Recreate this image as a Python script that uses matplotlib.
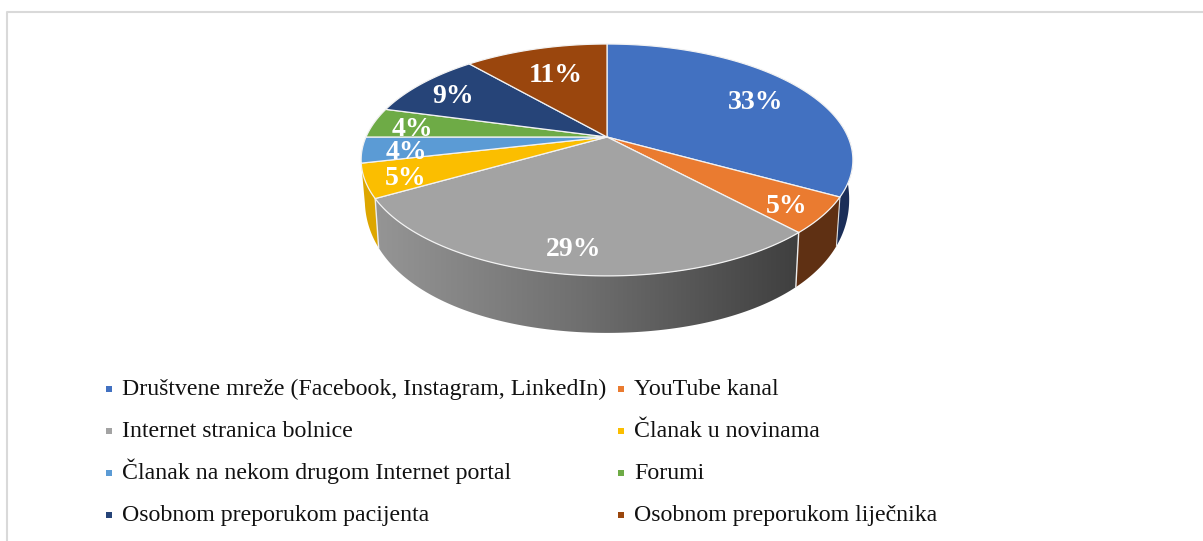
import numpy as np
import matplotlib
matplotlib.use('Agg')
import matplotlib.pyplot as plt
from matplotlib.colors import LinearSegmentedColormap
from matplotlib.patches import Polygon

kategorije = ['Društvene mreže (Facebook, Instagram, LinkedIn)', 'YouTube kanal',
              'Internet stranica bolnice', 'Članak u novinama',
              'Članak na nekom drugom Internet portal', 'Forumi',
              'Osobnom preporukom pacijenta', 'Osobnom preporukom liječnika']
postotci = [33.1, 5.0, 28.6, 4.7, 3.6, 4.2, 9.4, 11.4]
boje = ['#4271C1', '#EA7B30', '#A3A3A3', '#FBBE00', '#5B9BD5', '#6EAB46', '#264478', '#9A460D']
boje_boka = ['#1B2E58', '#5F3013', '#555555', '#DDA600']
r_oznaka = [0.76, 0.84, 0.82, 0.85, 0.83, 0.84, 0.83, 0.72]

# perspektiva kruznice: sredina pite i poluosi u pikselima
cx, cy = 607, 137
A, B, k = 241, 111.4, 0.198


def tocke(t, r=1.0):
    u, v = r * np.sin(t), r * np.cos(t)
    w = 1 + k * v
    return cx + A * u / w, cy - B * v / w


def dno(x, y):
    d = np.clip(57 - 0.0013 * np.clip(276 - y, 0, None) ** 2, 0, None)
    return cx + (x - cx) * 0.985, y + d


fig = plt.figure(figsize=(12.03, 5.41), dpi=100)
ax = fig.add_axes([0, 0, 1, 1])
ax.set_xlim(0, 1203)
ax.set_ylim(541, 0)
ax.axis('off')

# okvir
ax.plot([7, 7, 1203], [541, 12, 12], color='#D9D9D9', lw=1.5)

kum = np.cumsum([0] + postotci) / sum(postotci) * 2 * np.pi

# bokovi, samo prednja strana
for i in [0, 3, 1, 2]:
    t = np.linspace(kum[i], kum[i + 1], 120)
    if i == 0:
        t = np.linspace(np.radians(85), kum[1], 120)
    x, y = tocke(t)
    xd, yd = dno(x, y)
    xy = np.column_stack([np.r_[x, xd[::-1]], np.r_[y, yd[::-1]]])
    if i == 2:
        cmap = LinearSegmentedColormap.from_list('siva', ['#959595', '#6E6E6E', '#3F3F3F'])
        slika = ax.imshow(np.linspace(0, 1, 256).reshape(1, -1), cmap=cmap, aspect='auto',
                          extent=[xy[:, 0].min(), xy[:, 0].max(), 345, 190], zorder=2)
        slika.set_clip_path(Polygon(xy, transform=ax.transData))
    else:
        ax.add_patch(Polygon(xy, facecolor=boje_boka[i], edgecolor='none', zorder=2))
ax.set_xlim(0, 1203)
ax.set_ylim(541, 0)

# bijeli rubovi boka sive kriske
for kut in [kum[2], kum[3]]:
    x0, y0 = tocke(kut)
    x1, y1 = dno(x0, y0)
    ax.plot([x0, x1], [y0, y1], color='#EDEDED', lw=1, zorder=3)
x0, y0 = tocke(kum[1])
x1, y1 = dno(x0, y0)
ax.plot([x0, x1], [y0, y1], color='#DDDDDD', lw=0.8, zorder=3)

# gornja ploha
for i in range(len(postotci)):
    t = np.linspace(kum[i], kum[i + 1], 120)
    x, y = tocke(t)
    xy = np.column_stack([np.r_[cx, x], np.r_[cy, y]])
    ax.add_patch(Polygon(xy, facecolor=boje[i], edgecolor='#F2F2F2', lw=0.9, zorder=4))
    xt, yt = tocke((kum[i] + kum[i + 1]) / 2, r_oznaka[i])
    ax.text(xt + 2, yt + 5, f'{round(postotci[i])}%', color='white', fontsize=20, fontweight='bold',
            family='Liberation Serif', ha='center', va='center', zorder=6)

# legenda
for i, naziv in enumerate(kategorije):
    red, stupac = i // 2, i % 2
    x = 109 + stupac * 512
    y = 389 + red * 42
    ax.scatter(x, y, marker='s', s=23, color=boje[i], linewidths=0, zorder=5)
    ax.text(x + 13, y + 6, naziv, color='#111111', fontsize=17.2, family='Liberation Serif',
            ha='left', va='baseline', zorder=5)

fig.savefig('out.png', dpi=100)
